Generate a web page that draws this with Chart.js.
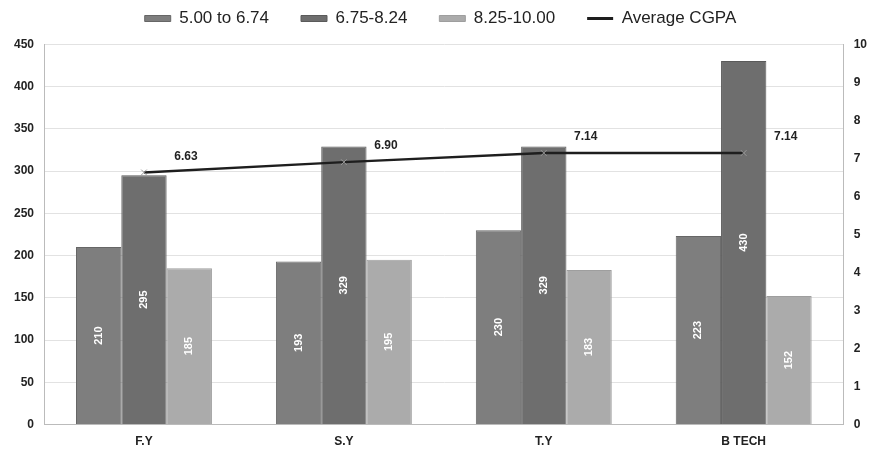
<!DOCTYPE html>
<html>
<head>
<meta charset="utf-8">
<script src="https://cdn.jsdelivr.net/npm/chart.js@4"></script>
<style>
  html, body { margin: 0; padding: 0; background: #fff; }
  #wrap { width: 879px; height: 450px; }
</style>
</head>
<body>
<div id="wrap"><canvas id="chart1"></canvas></div>
<script>
// data
const categories = ['F.Y', 'S.Y', 'T.Y', 'B TECH'];
const low = [210, 193, 230, 223];        // 5.00 to 6.74
const mid = [295, 329, 329, 430];        // 6.75-8.24
const high = [185, 195, 183, 152];       // 8.25-10.00
const avgCgpa = [6.63, 6.90, 7.14, 7.14];
const leftTicks = [0, 50, 100, 150, 200, 250, 300, 350, 400, 450];
const rightTicks = [0, 1, 2, 3, 4, 5, 6, 7, 8, 9, 10];

const tickFont = { family: '"Liberation Sans", Arial, sans-serif', size: 12, weight: 'bold' };

// value labels: white rotated text inside bars, black text beside line points
const valueLabels = {
    id: 'valueLabels',
    afterDatasetsDraw(chart) {
        const ctx = chart.ctx;
        chart.data.datasets.forEach((ds, i) => {
            const meta = chart.getDatasetMeta(i);
            meta.data.forEach((el, j) => {
                ctx.save();
                if (ds.type === 'line') {
                    ctx.font = 'bold 12px "Liberation Sans", Arial, sans-serif';
                    ctx.fillStyle = '#222';
                    ctx.textAlign = 'center';
                    ctx.textBaseline = 'middle';
                    ctx.fillText(ds.data[j].toFixed(2), el.x + 42, el.y - 16);
                } else {
                    const cy = (el.y + el.base) / 2;
                    ctx.translate(el.x, cy);
                    ctx.rotate(-Math.PI / 2);
                    ctx.font = 'bold 11px "Liberation Sans", Arial, sans-serif';
                    ctx.fillStyle = '#fff';
                    ctx.textAlign = 'center';
                    ctx.textBaseline = 'middle';
                    ctx.fillText(String(ds.data[j]), 0, 0);
                }
                ctx.restore();
            });
        });
    }
};

const ctx1 = document.getElementById('chart1').getContext('2d');
new Chart(ctx1, {
    type: 'bar',
    data: {
        labels: categories,
        datasets: [{
            type: 'line',
            label: 'Average CGPA',
            data: avgCgpa,
            yAxisID: 'y1',
            borderColor: '#1e1e1e',
            backgroundColor: '#1e1e1e',
            borderWidth: 2.5,
            pointStyle: 'crossRot',
            pointRadius: 4,
            pointBorderColor: '#999',
            pointBorderWidth: 1,
            tension: 0,
            order: 0
        }, {
            label: '5.00 to 6.74',
            data: low,
            backgroundColor: '#7e7e7e',
            borderColor: '#666',
            borderWidth: 1,
            order: 1
        }, {
            label: '6.75-8.24',
            data: mid,
            backgroundColor: '#6e6e6e',
            borderColor: '#5a5a5a',
            borderWidth: 1,
            order: 1
        }, {
            label: '8.25-10.00',
            data: high,
            backgroundColor: '#ababab',
            borderColor: '#9e9e9e',
            borderWidth: 1,
            order: 1
        }]
    },
    options: {
        responsive: true,
        maintainAspectRatio: false,
        animation: false,
        categoryPercentage: 0.68,
        barPercentage: 1,
        // negative top padding lifts the wide-spaced legend to the top edge
        layout: { padding: { left: 4, right: 2, top: -22, bottom: -9 } },
        plugins: {
            tooltip: { enabled: false },
            // empty title used only as a spacer under the legend
            title: {
                display: true,
                text: '',
                weight: 100,
                font: { size: 1 },
                padding: { top: 0, bottom: 6 }
            },
            legend: {
                position: 'top',
                labels: {
                    color: '#222',
                    font: { family: '"Liberation Sans", Arial, sans-serif', size: 17 },
                    boxWidth: 26,
                    boxHeight: 6,
                    usePointStyle: true,
                    pointStyleWidth: 26,
                    padding: 32,
                    generateLabels: chart => {
                        const items = Chart.defaults.plugins.legend.labels.generateLabels(chart);
                        items.forEach(it => {
                            if (it.datasetIndex === 0) {
                                it.pointStyle = 'line';
                                it.lineWidth = 3;
                                it.strokeStyle = '#1e1e1e';
                            } else {
                                it.pointStyle = 'rect';
                            }
                        });
                        return items.sort((a, b) => (a.datasetIndex === 0) - (b.datasetIndex === 0));
                    }
                }
            }
        },
        scales: {
            x: {
                grid: { display: false, drawTicks: false },
                border: { color: '#bbb' },
                ticks: { padding: 10, color: '#222', font: tickFont }
            },
            y: {
                position: 'left',
                min: 0,
                max: leftTicks[leftTicks.length - 1],
                afterBuildTicks: s => { s.ticks = leftTicks.map(v => ({ value: v })); },
                grid: { color: '#e2e2e2', drawTicks: false },
                border: { color: '#bbb' },
                ticks: { padding: 10, color: '#222', font: tickFont }
            },
            y1: {
                position: 'right',
                min: 0,
                max: rightTicks[rightTicks.length - 1],
                afterBuildTicks: s => { s.ticks = rightTicks.map(v => ({ value: v })); },
                grid: { display: false, drawTicks: false },
                border: { color: '#bbb' },
                ticks: { padding: 10, color: '#222', font: tickFont }
            }
        }
    },
    plugins: [valueLabels]
});
</script>
</body>
</html>
